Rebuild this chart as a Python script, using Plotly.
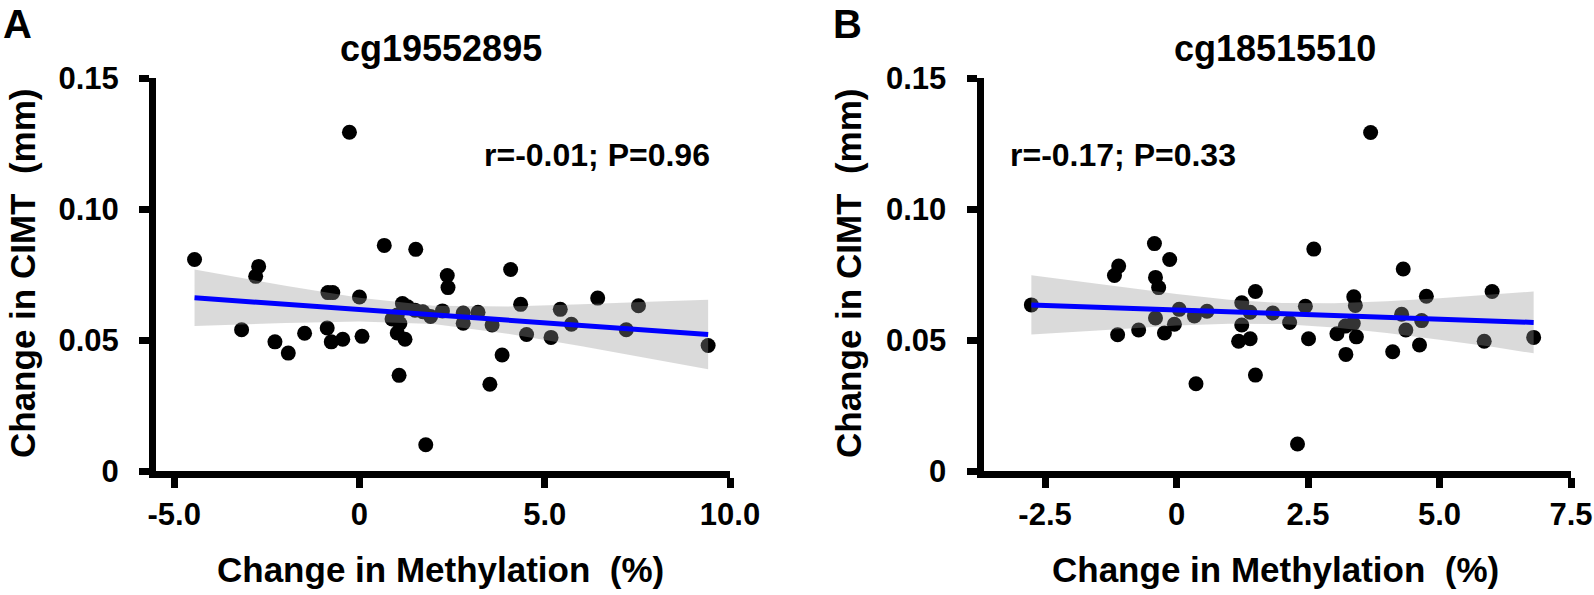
import plotly.graph_objects as go

W, H = 1594, 595
FONT = "Liberation Sans"
BAND = "rgba(150,150,150,0.35)"
LINE_BLUE = "#0000ff"

# ---- panel A: cg19552895 ----
a_meth = [-4.45, -3.18, -2.72, -2.80, -2.28, -1.92, -1.48, -0.85, -0.72, -0.87,
          -0.76, -0.45, 0.00, 0.07, -0.27, 0.67, 0.88, 1.02, 1.02, 1.07,
          1.09, 1.16, 1.23, 1.30, 1.50, 1.52, 1.71, 1.79, 1.92, 2.24,
          2.37, 2.39, 2.80, 2.80, 3.20, 3.52, 3.58, 3.85, 4.08, 4.35,
          4.51, 5.17, 5.42, 5.72, 6.43, 7.20, 7.53, 9.41]
a_cimt = [0.0807, 0.0539, 0.0781, 0.0743, 0.0493, 0.0450, 0.0526, 0.0681, 0.0681, 0.0546,
          0.0493, 0.0503, 0.0664, 0.0514, 0.1293, 0.0861, 0.0580, 0.0595, 0.0527, 0.0365,
          0.0563, 0.0639, 0.0503, 0.0627, 0.0614, 0.0846, 0.0608, 0.0100, 0.0590, 0.0611,
          0.0746, 0.0700, 0.0603, 0.0564, 0.0606, 0.0331, 0.0557, 0.0443, 0.0769, 0.0636,
          0.0521, 0.0510, 0.0617, 0.0560, 0.0660, 0.0539, 0.0631, 0.0479]
a_fit_x = [-4.45, 9.41]
a_fit_y = [0.0661, 0.0521]
a_band_x = [-4.45, -2, 0, 2, 4, 6, 8, 9.41]
a_band_hi = [0.0769, 0.0707, 0.0661, 0.0631, 0.0628, 0.0636, 0.0647, 0.0654]
a_band_lo = [0.0553, 0.0565, 0.0571, 0.0561, 0.0524, 0.0476, 0.0425, 0.0388]
a_ticks = [-5, 0, 5, 10]
a_ticktext = ["-5.0", "0", "5.0", "10.0"]

# ---- panel B: cg18515510 ----
b_meth = [-2.76, -1.10, -1.18, -1.12, -0.72, -0.42, -0.13, -0.40, -0.34, -0.40,
          -0.23, -0.04, 0.05, 0.34, 0.37, 0.58, 1.18, 1.24, 1.24, 1.40,
          1.40, 1.50, 1.50, 1.83, 2.15, 2.30, 2.45, 2.51, 2.61, 3.05,
          3.21, 3.22, 3.36, 3.37, 3.40, 3.42, 3.69, 4.11, 4.28, 4.31,
          4.36, 4.62, 4.66, 4.75, 5.85, 6.00, 6.79]
b_cimt = [0.0634, 0.0782, 0.0746, 0.0520, 0.0538, 0.0868, 0.0807, 0.0739, 0.0700, 0.0584,
          0.0527, 0.0560, 0.0617, 0.0592, 0.0333, 0.0610, 0.0495, 0.0642, 0.0557, 0.0606,
          0.0505, 0.0685, 0.0366, 0.0603, 0.0567, 0.0103, 0.0629, 0.0505, 0.0847, 0.0524,
          0.0553, 0.0445, 0.0563, 0.0665, 0.0632, 0.0512, 0.1292, 0.0455, 0.0598, 0.0771,
          0.0538, 0.0481, 0.0574, 0.0667, 0.0495, 0.0685, 0.0510]
b_fit_x = [-2.76, 6.79]
b_fit_y = [0.0634, 0.0567]
b_band_x = [-2.76, -1.5, 0, 1, 2, 3, 4, 5, 6, 6.79]
b_band_hi = [0.0747, 0.0714, 0.0676, 0.0654, 0.0641, 0.0640, 0.0648, 0.0659, 0.0672, 0.0685]
b_band_lo = [0.0521, 0.0536, 0.0555, 0.0562, 0.0561, 0.0548, 0.0527, 0.0501, 0.0474, 0.0449]
b_ticks = [-2.5, 0, 2.5, 5, 7.5]
b_ticktext = ["-2.5", "0", "2.5", "5.0", "7.5"]

y_ticks = [0, 0.05, 0.10, 0.15]
y_ticktext = ["0", "0.05", "0.10", "0.15"]


def add_panel(fig, n, meth, cimt, fit_x, fit_y, band_x, band_hi, band_lo):
    xa = "x" if n == 1 else f"x{n}"
    ya = "y" if n == 1 else f"y{n}"
    fig.add_trace(go.Scatter(
        x=meth, y=cimt, mode="markers", xaxis=xa, yaxis=ya,
        marker=dict(color="black", size=15, line=dict(width=0)),
        showlegend=False, cliponaxis=False,
    ))
    # confidence band sits over the dots, like the original
    fig.add_trace(go.Scatter(
        x=band_x + band_x[::-1], y=band_hi + band_lo[::-1],
        mode="lines", fill="toself", fillcolor=BAND, line=dict(width=0),
        xaxis=xa, yaxis=ya, showlegend=False, hoverinfo="skip",
    ))
    fig.add_trace(go.Scatter(
        x=fit_x, y=fit_y, mode="lines", xaxis=xa, yaxis=ya,
        line=dict(color=LINE_BLUE, width=5), showlegend=False,
    ))


def axis_style(tickvals, ticktext, standoff):
    return dict(
        tickmode="array", tickvals=tickvals, ticktext=ticktext,
        showline=True, linecolor="black", linewidth=7,
        ticks="outside", ticklen=10, tickwidth=7, tickcolor="black",
        showgrid=False, zeroline=False, fixedrange=True, automargin=False,
        tickfont=dict(family=FONT, size=31, color="black", weight="bold"),
        ticklabelstandoff=standoff,
    )


fig = go.Figure()
add_panel(fig, 1, a_meth, a_cimt, a_fit_x, a_fit_y, a_band_x, a_band_hi, a_band_lo)
add_panel(fig, 2, b_meth, b_cimt, b_fit_x, b_fit_y, b_band_x, b_band_hi, b_band_lo)

y_dom = [1 - 471 / H, 1 - 78 / H]
fig.update_layout(
    width=W, height=H,
    margin=dict(l=0, r=0, t=0, b=0, pad=0),
    paper_bgcolor="white", plot_bgcolor="white",
    xaxis=dict(domain=[156 / W, 730 / W], range=[-5.49, 10.0], anchor="y",
               **axis_style(a_ticks, a_ticktext, 0)),
    yaxis=dict(domain=y_dom, range=[0, 0.15], anchor="x",
               **axis_style(y_ticks, y_ticktext, 14)),
    xaxis2=dict(domain=[983.5 / W, 1571 / W], range=[-3.67, 7.5], anchor="y2",
                **axis_style(b_ticks, b_ticktext, 0)),
    yaxis2=dict(domain=y_dom, range=[0, 0.15], anchor="x2",
                **axis_style(y_ticks, y_ticktext, 14)),
)


def label(text, x, y, size, **kw):
    fig.add_annotation(
        text=text, x=x, y=y, showarrow=False, xanchor="center", yanchor="middle",
        font=dict(family=FONT, size=size, color="black", weight="bold"), **kw,
    )


def paper_label(text, px, py, size, **kw):
    label(text, px / W, 1 - py / H, size, xref="paper", yref="paper", **kw)


# panel letters and titles
paper_label("A", 17, 24, 40)
paper_label("B", 848, 24, 40)
paper_label("cg19552895", 441, 48, 36)
paper_label("cg18515510", 1275, 48, 36)

# correlation stats (placed in data units)
label("r=-0.01; P=0.96", 6.42, 0.1205, 32, xref="x", yref="y")
label("r=-0.17; P=0.33", -1.01, 0.1205, 32, xref="x2", yref="y2")

# axis titles
for cx in (441, 1275):
    paper_label("Change in Methylation\u00a0 (%)", cx, 569, 35)
for cx in (23, 849):
    paper_label("Change in CIMT\u00a0 (mm)", cx, 274, 35, textangle=-90)

fig.write_html(
    "out.html",
    config={"displayModeBar": False},
    post_script="document.body.style.margin='0';",
)
